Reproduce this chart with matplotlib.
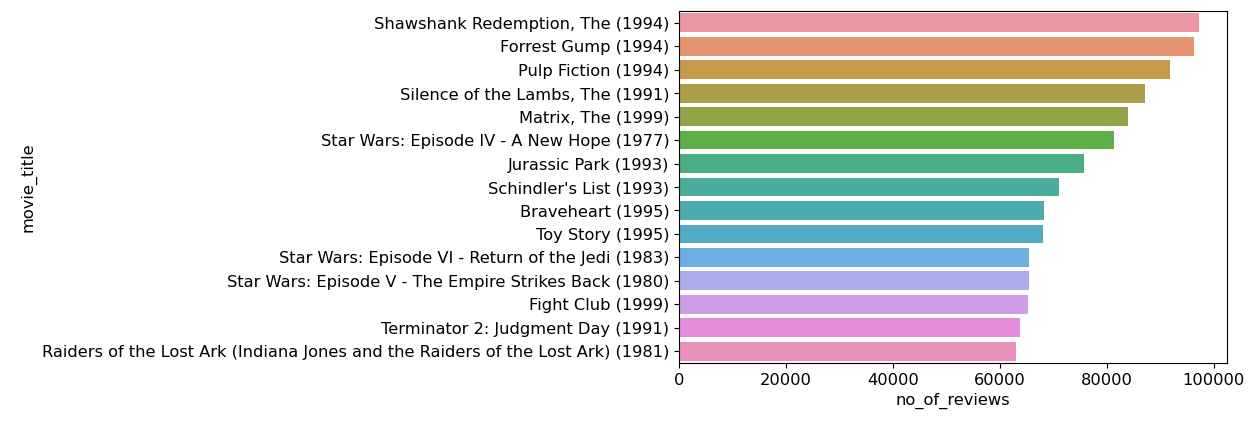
import matplotlib
matplotlib.use("Agg")
import matplotlib.pyplot as plt
import seaborn as sns
import pandas as pd

movie_title = [
    "Shawshank Redemption, The (1994)",
    "Forrest Gump (1994)",
    "Pulp Fiction (1994)",
    "Silence of the Lambs, The (1991)",
    "Matrix, The (1999)",
    "Star Wars: Episode IV - A New Hope (1977)",
    "Jurassic Park (1993)",
    "Schindler's List (1993)",
    "Braveheart (1995)",
    "Toy Story (1995)",
    "Star Wars: Episode VI - Return of the Jedi (1983)",
    "Star Wars: Episode V - The Empire Strikes Back (1980)",
    "Fight Club (1999)",
    "Terminator 2: Judgment Day (1991)",
    "Raiders of the Lost Ark (Indiana Jones and the Raiders of the Lost Ark) (1981)",
]
no_of_reviews = [97300, 96300, 91800, 87200, 83900, 81400, 75800, 71000,
                 68200, 68000, 65500, 65500, 65200, 63700, 63100]

df = pd.DataFrame({"movie_title": movie_title, "no_of_reviews": no_of_reviews})

plt.rcParams["font.family"] = ["DejaVu Sans"]
plt.rcParams["font.size"] = 11.7

fig = plt.figure(figsize=(12.52, 4.26), dpi=100)
ax = fig.add_axes([0.5423, 0.148, 0.4377, 0.826])

# old seaborn default for many categories: husl with l=.7, then saturation .75
colors = sns.color_palette(sns.husl_palette(len(movie_title), l=.7), desat=0.75)
sns.barplot(data=df, x="no_of_reviews", y="movie_title", hue="movie_title",
            palette=colors, legend=False, saturation=1, ax=ax)

ax.set_xticks([0, 20000, 40000, 60000, 80000, 100000])
ax.set_xlim(0, 102500)

fig.savefig("out.png", dpi=100)
